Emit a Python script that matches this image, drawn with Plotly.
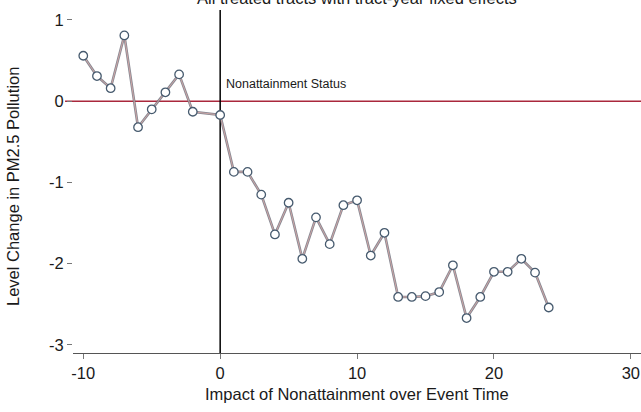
import plotly.graph_objects as go

event_time = [-10, -9, -8, -7, -6, -5, -4, -3, -2,
              0, 1, 2, 3, 4, 5, 6, 7, 8, 9, 10, 11, 12,
              13, 14, 15, 16, 17, 18, 19, 20, 21, 22, 23, 24]
level_change = [0.56, 0.31, 0.16, 0.81, -0.32, -0.10, 0.11, 0.33, -0.13,
                -0.17, -0.87, -0.87, -1.15, -1.64, -1.25, -1.94, -1.43, -1.76, -1.28, -1.22, -1.90, -1.62,
                -2.41, -2.41, -2.40, -2.35, -2.02, -2.67, -2.41, -2.10, -2.10, -1.94, -2.11, -2.54]
x_ticks = [-10, 0, 10, 20, 30]
x_labels = ["-10", "0", "10", "20", "30"]
y_ticks = [1, 0, -1, -2, -3]
y_labels = ["1", "0", "-1", "-2", "-3"]

FONT = "Liberation Sans, Arial, Helvetica, sans-serif"
TXT = "#1a1a1a"

fig = go.Figure()
fig.add_trace(go.Scatter(x=event_time, y=level_change, mode="lines",
                         line=dict(color="rgba(105,108,120,0.8)", width=2.6),
                         hoverinfo="skip", showlegend=False))
fig.add_trace(go.Scatter(x=event_time, y=level_change, mode="lines+markers",
                         line=dict(color="rgb(205,165,165)", width=1),
                         marker=dict(size=8.5, color="white",
                                     line=dict(color="rgb(70,90,110)", width=1.3)),
                         showlegend=False))

# horizontal zero line (red) and vertical event line
fig.add_shape(type="line", xref="paper", yref="y", x0=-0.014, x1=1, y0=0, y1=0,
              line=dict(color="rgb(170,40,60)", width=1.6), layer="below")
fig.add_shape(type="line", xref="x", yref="paper", x0=0, x1=0, y0=0, y1=1,
              line=dict(color="black", width=1.5), layer="below")

fig.add_annotation(x=0, y=0, xref="x", yref="y", xshift=4, yshift=8,
                   text="Nonattainment Status", showarrow=False,
                   xanchor="left", yanchor="bottom",
                   font=dict(family=FONT, size=12.5, color=TXT))
fig.add_annotation(x=0.5, y=1.003, xref="paper", yref="paper",
                   text="All treated tracts with tract-year fixed effects",
                   showarrow=False, xanchor="center", yanchor="bottom",
                   font=dict(family=FONT, size=16.5, color=TXT))
fig.add_annotation(x=-0.1056, y=0.484, xref="paper", yref="paper",
                   text="Level Change in PM2.5 Pollution", textangle=-90,
                   showarrow=False, xanchor="center", yanchor="middle",
                   font=dict(family=FONT, size=16.5, color=TXT))
fig.add_annotation(x=0.5, y=-0.088, xref="paper", yref="paper",
                   text="Impact of Nonattainment over Event Time",
                   showarrow=False, xanchor="center", yanchor="top",
                   font=dict(family=FONT, size=16.5, color=TXT))

fig.update_layout(
    width=641, height=412,
    margin=dict(l=73, r=0, t=10, b=59),
    paper_bgcolor="white", plot_bgcolor="white",
    font=dict(family=FONT, size=16.5, color=TXT),
    xaxis=dict(range=[-10.75, 30.74], tickvals=x_ticks, ticktext=x_labels,
               ticks="outside", ticklen=5, tickcolor="#777", tickwidth=1,
               showline=True, linecolor="#555", linewidth=1.3,
               showgrid=False, zeroline=False,
               tickfont=dict(size=16.5)),
    yaxis=dict(range=[-3.1, 1.123], tickvals=y_ticks, ticktext=y_labels,
               ticks="outside", ticklen=5, tickcolor="#777", tickwidth=1,
               showline=False, showgrid=False, zeroline=False,
               tickfont=dict(size=16.5)),
)

fig.write_html("out.html")
